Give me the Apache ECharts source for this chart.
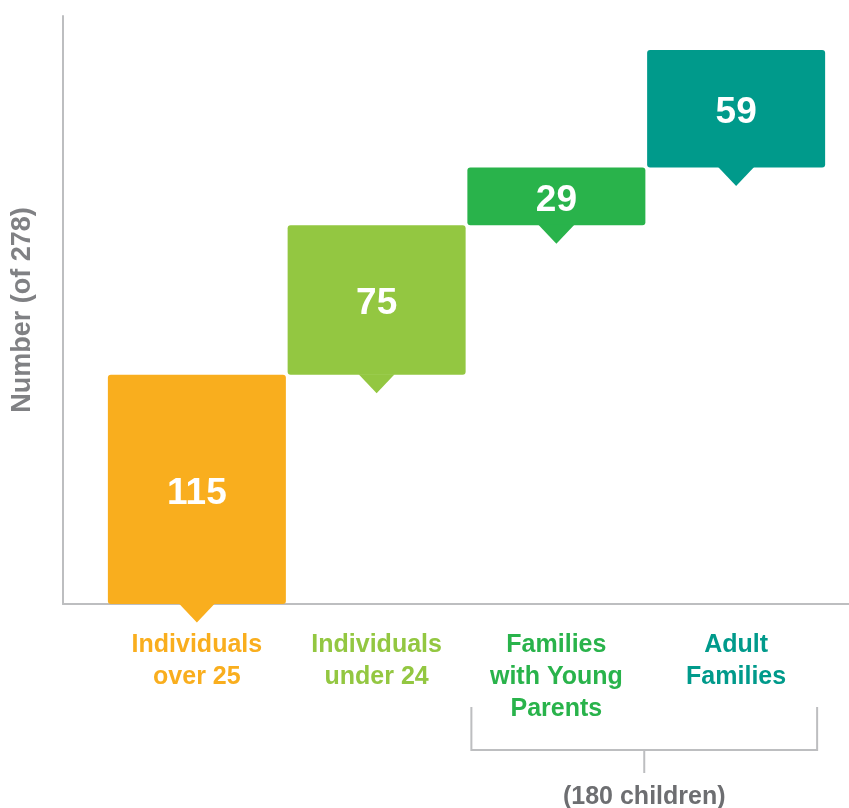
<html>
<head>
<meta charset="utf-8">
<title>Number (of 278)</title>
<script src="https://cdn.jsdelivr.net/npm/echarts@6/dist/echarts.min.js"></script>
<style>
	html, body { margin: 0; padding: 0; background: #fff; }
	#container { width: 849px; height: 808px; }
</style>
</head>
<body>
	<div id="container"></div>
	<script type="text/javascript">
		// data
		var categories = ['Individuals\nover 25', 'Individuals\nunder 24', 'Families\nwith Young\nParents', 'Adult\nFamilies'];
		var values = [115, 75, 29, 59];
		var colors = ['#F9AE1E', '#93C741', '#29B34B', '#009A8B'];
		var bracketLabel = '(180 children)';
		var axisName = 'Number (of 278)';

		// waterfall base = running total of previous bars
		var bases = [];
		var run = 0;
		for (var i = 0; i < values.length; i++) {
			bases.push(run);
			run += values[i];
		}

		var font = 'Liberation Sans, Arial, sans-serif';
		var gray = '#BDBEC0';

		var dom = document.getElementById("container");
		var myChart = echarts.init(dom);
		var option = {
			animation: false,
			grid: [
				{ left: 107, right: 23, top: 16, bottom: 204, outerBoundsMode: 'none' },
				{ left: 63, right: 0, top: 16, bottom: 204, outerBoundsMode: 'none' }
			],
			xAxis: [
				{
					type: 'category',
					gridIndex: 0,
					data: categories,
					axisLine: { show: false },
					axisTick: { show: false },
					axisLabel: {
						margin: 25,
						fontSize: 25,
						fontWeight: 'bold',
						fontFamily: font,
						lineHeight: 32,
						color: function (v, idx) { return colors[idx]; }
					}
				},
				{
					type: 'value',
					gridIndex: 1,
					min: 0, max: 1,
					axisLine: { show: true, lineStyle: { color: gray, width: 2 } },
					axisTick: { show: false },
					axisLabel: { show: false },
					splitLine: { show: false }
				}
			],
			yAxis: [
				{
					type: 'value',
					gridIndex: 0,
					min: 0, max: 295,
					axisLine: { show: false },
					axisTick: { show: false },
					axisLabel: { show: false },
					splitLine: { show: false }
				},
				{
					type: 'value',
					gridIndex: 1,
					min: 0, max: 1,
					name: axisName,
					nameLocation: 'middle',
					nameGap: 27,
					nameRotate: 90,
					nameTextStyle: { fontSize: 27, fontWeight: 'bold', fontFamily: font, color: '#808184' },
					axisLine: { show: true, lineStyle: { color: gray, width: 2 } },
					axisTick: { show: false },
					axisLabel: { show: false },
					splitLine: { show: false }
				}
			],
			series: [
				{
					type: 'bar',
					stack: 'wf',
					xAxisIndex: 0, yAxisIndex: 0,
					barWidth: 178,
					itemStyle: { color: 'transparent' },
					silent: true,
					data: bases
				},
				{
					type: 'bar',
					stack: 'wf',
					xAxisIndex: 0, yAxisIndex: 0,
					barWidth: 178,
					z: 3,
					itemStyle: {
						borderRadius: 3,
						color: function (p) { return colors[p.dataIndex]; }
					},
					label: {
						show: true,
						position: 'inside',
						offset: [0, 4],
						color: '#fff',
						fontSize: 37,
						fontWeight: 'bold',
						fontFamily: font
					},
					data: values
				},
				{
					// pointer under each box
					type: 'scatter',
					xAxisIndex: 0, yAxisIndex: 0,
					symbol: 'path://M0,0 L36,0 L18,19 Z',
					symbolSize: [36, 19],
					symbolOffset: [0, 9],
					z: 4,
					itemStyle: {
						opacity: 1,
						color: function (p) { return colors[p.dataIndex]; }
					},
					data: bases.map(function (b, i) { return [i, b]; })
				}
			]
		};
		myChart.setOption(option);

		// bracket under the two family groups
		var c3 = myChart.convertToPixel({ xAxisIndex: 0 }, 2);
		var c4 = myChart.convertToPixel({ xAxisIndex: 0 }, 3);
		var y0 = myChart.convertToPixel({ yAxisIndex: 0 }, 0);
		var bx1 = c3 - 85, bx2 = c4 + 81, mid = (bx1 + bx2) / 2;
		var bTop = y0 + 103, bLow = y0 + 146;
		var ls = { stroke: gray, lineWidth: 2, fill: null };
		myChart.setOption({
			graphic: [
				{ type: 'polyline', shape: { points: [[bx1, bTop], [bx1, bLow], [bx2, bLow], [bx2, bTop]] }, style: ls },
				{ type: 'line', shape: { x1: mid, y1: bLow, x2: mid, y2: bLow + 23 }, style: ls },
				{
					type: 'text', x: mid, y: bLow + 47,
					style: {
						text: bracketLabel, align: 'center', verticalAlign: 'middle',
						fontSize: 25, fontWeight: 'bold', fontFamily: font, fill: '#6D6E71'
					}
				}
			]
		});
	</script>
</body>
</html>
